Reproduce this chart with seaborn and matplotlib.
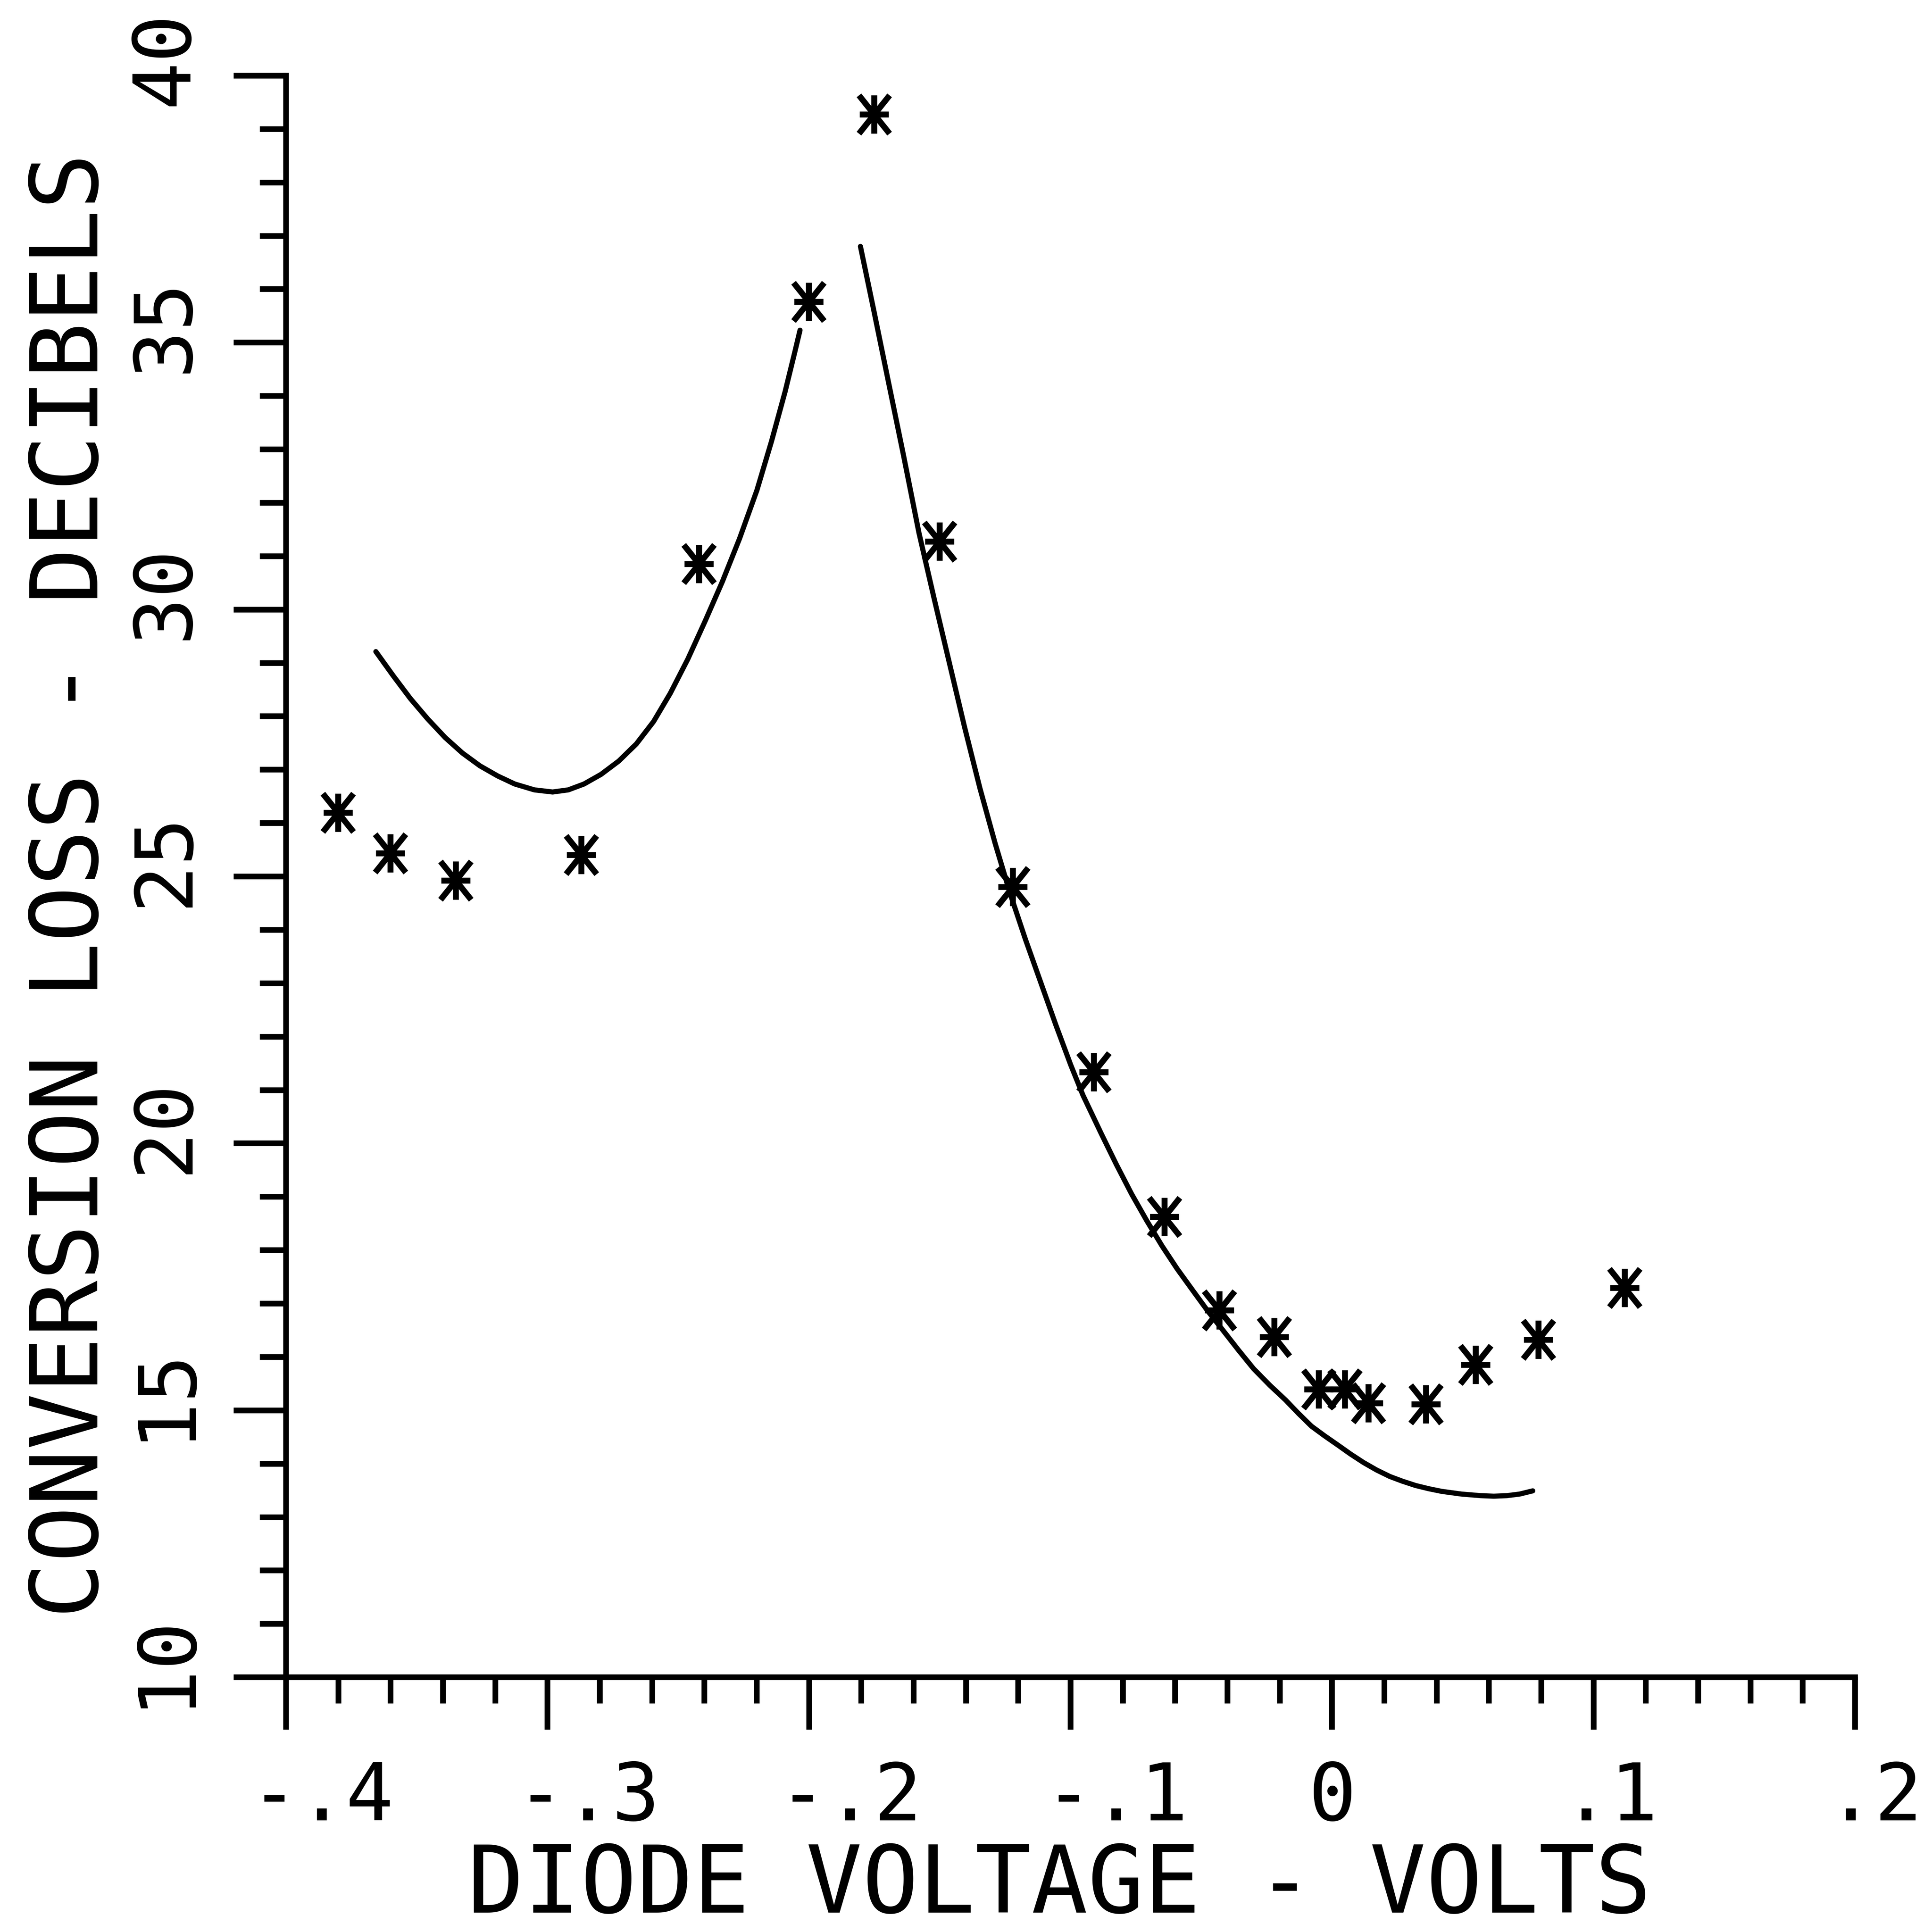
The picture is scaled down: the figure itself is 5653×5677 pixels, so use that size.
import matplotlib
matplotlib.use("Agg")
import matplotlib.pyplot as plt
import matplotlib.transforms as mtransforms
from matplotlib.path import Path
from matplotlib.markers import MarkerStyle
from matplotlib.ticker import MultipleLocator
import pandas as pd
import seaborn as sns

# Measured conversion loss (dB) against diode bias voltage (V)
meas_v = [-0.380, -0.360, -0.335, -0.287, -0.242, -0.200, -0.175, -0.150,
          -0.122, -0.091, -0.064, -0.043, -0.022, -0.005, 0.005, 0.014,
          0.036, 0.055, 0.079, 0.112]
meas_db = [26.19, 25.43, 24.92, 25.40, 30.85, 35.76, 39.27, 31.27,
           24.80, 21.33, 18.62, 16.87, 16.37, 15.39, 15.39, 15.13,
           15.11, 15.85, 16.32, 17.29]

# Computed loss, branch below the resonance
low_v = [-0.3656, -0.3590, -0.3524, -0.3458, -0.3391, -0.3325, -0.3258,
         -0.3190, -0.3125, -0.3050, -0.2980, -0.2920, -0.2860, -0.2795,
         -0.2727, -0.2660, -0.2594, -0.2530, -0.2463, -0.2397, -0.2331,
         -0.2265, -0.2199, -0.2143, -0.2091, -0.2053, -0.2034]
low_db = [29.21, 28.76, 28.33, 27.95, 27.60, 27.31, 27.07,
          26.88, 26.73, 26.62, 26.58, 26.62, 26.73, 26.91,
          27.16, 27.48, 27.90, 28.43, 29.07, 29.78, 30.52,
          31.33, 32.23, 33.15, 34.08, 34.84, 35.23]

# Computed loss, branch above the resonance
high_v = [-0.1803, -0.1751, -0.1695, -0.1638, -0.1579, -0.1521, -0.1463,
          -0.1405, -0.1346, -0.1288, -0.1230, -0.1172, -0.1114, -0.1056,
          -0.0999, -0.0952, -0.0882, -0.0824, -0.0766, -0.0708, -0.0650,
          -0.0592, -0.0533, -0.0475, -0.0417, -0.0358, -0.0300, -0.0238,
          -0.0177, -0.0128, -0.0078, -0.0028, 0.0022, 0.0071, 0.0121,
          0.0171, 0.0221, 0.0270, 0.0320, 0.0370, 0.0420, 0.0495,
          0.0569, 0.0619, 0.0669, 0.0718, 0.0768]
high_db = [36.80, 35.58, 34.24, 32.88, 31.43, 30.20, 29.00,
           27.80, 26.65, 25.62, 24.67, 23.82, 23.02, 22.22,
           21.47, 20.90, 20.18, 19.60, 19.05, 18.55, 18.08,
           17.65, 17.25, 16.86, 16.50, 16.13, 15.78, 15.47,
           15.19, 14.94, 14.70, 14.52, 14.35, 14.18, 14.02,
           13.88, 13.76, 13.67, 13.59, 13.53, 13.48, 13.43,
           13.40, 13.39, 13.40, 13.43, 13.49]

x_ticks = [-0.4, -0.3, -0.2, -0.1, 0.0, 0.1, 0.2]
x_tick_labels = ["-.4", "-.3", "-.2", "-.1", "0", ".1", ".2"]
y_ticks = [10, 15, 20, 25, 30, 35, 40]
y_tick_labels = ["10", "15", "20", "25", "30", "35", "40"]

sns.set_theme(style="white")
plt.rcParams["font.family"] = ["DejaVu Sans Mono", "DejaVu Sans"]

DPI = 300
fig = plt.figure(figsize=(5653 / DPI, 5677 / DPI), dpi=DPI)
fig.patch.set_facecolor("white")
ax = fig.add_axes([0.1486, 0.1319, 0.8155, 0.8290])
ax.set_facecolor("white")

curve = pd.concat([
    pd.DataFrame({"v": low_v, "db": low_db, "branch": "low"}),
    pd.DataFrame({"v": high_v, "db": high_db, "branch": "high"}),
], ignore_index=True)
line_ax = sns.lineplot(data=curve, x="v", y="db", units="branch", estimator=None,
                       sort=False, color="black", linewidth=3.6, ax=ax)
for ln in line_ax.get_lines():
    ln.set_solid_joinstyle("round")
    ln.set_solid_capstyle("round")

# Plotter-style asterisk: vertical, horizontal and two diagonal strokes
star_path = Path(
    [(-0.4, -0.5), (0.4, 0.5), (-0.4, 0.5), (0.4, -0.5),
     (0.0, -0.5), (0.0, 0.5), (-0.38, 0.0), (0.38, 0.0)],
    [Path.MOVETO, Path.LINETO] * 4,
)
star = MarkerStyle(star_path, fillstyle="none")
sns.scatterplot(x=meas_v, y=meas_db, marker=star, s=27 ** 2, color="black",
                linewidth=4.2, ax=ax, zorder=3)

ax.set_xlim(-0.4, 0.2)
ax.set_ylim(10, 40)
ax.set_xticks(x_ticks, x_tick_labels)
ax.set_yticks(y_ticks, y_tick_labels)
ax.xaxis.set_minor_locator(MultipleLocator(0.02))
ax.yaxis.set_minor_locator(MultipleLocator(1))

for side in ("top", "right"):
    ax.spines[side].set_visible(False)
for side in ("left", "bottom"):
    ax.spines[side].set_color("black")
    ax.spines[side].set_linewidth(4.0)
    ax.spines[side].set_capstyle("projecting")

ax.tick_params(which="both", bottom=True, left=True, direction="out",
               color="black", width=4.0)
ax.tick_params(which="major", length=37, labelsize=56, labelcolor="black")
ax.tick_params(which="minor", length=18.5)
ax.tick_params(axis="x", which="major", pad=21)
ax.tick_params(axis="y", which="major", pad=21, labelrotation=90)

ax.set_xlabel("DIODE VOLTAGE - VOLTS", fontsize=66, color="black")
ax.set_ylabel("CONVERSION LOSS - DECIBELS", fontsize=66, color="black")
ax.xaxis.set_label_coords(0.493, -0.1024)
ax.yaxis.set_label_coords(-0.1076, 0.494)

# Label placement of the original plotter, offsets in pixels
x_label_shift = [106, 120, 121, 135, 2, 49, 58]
for lab, dx in zip(ax.get_xticklabels(), x_label_shift):
    lab.set_transform(lab.get_transform() +
                      mtransforms.ScaledTranslation(dx / DPI, 0, fig.dpi_scale_trans))
for lab in ax.get_yticklabels():
    lab.set_verticalalignment("center")
    lab.set_horizontalalignment("right")
    lab.set_transform(lab.get_transform() +
                      mtransforms.ScaledTranslation(0, 50 / DPI, fig.dpi_scale_trans))

fig.savefig("out.png", dpi=DPI, facecolor="white")
